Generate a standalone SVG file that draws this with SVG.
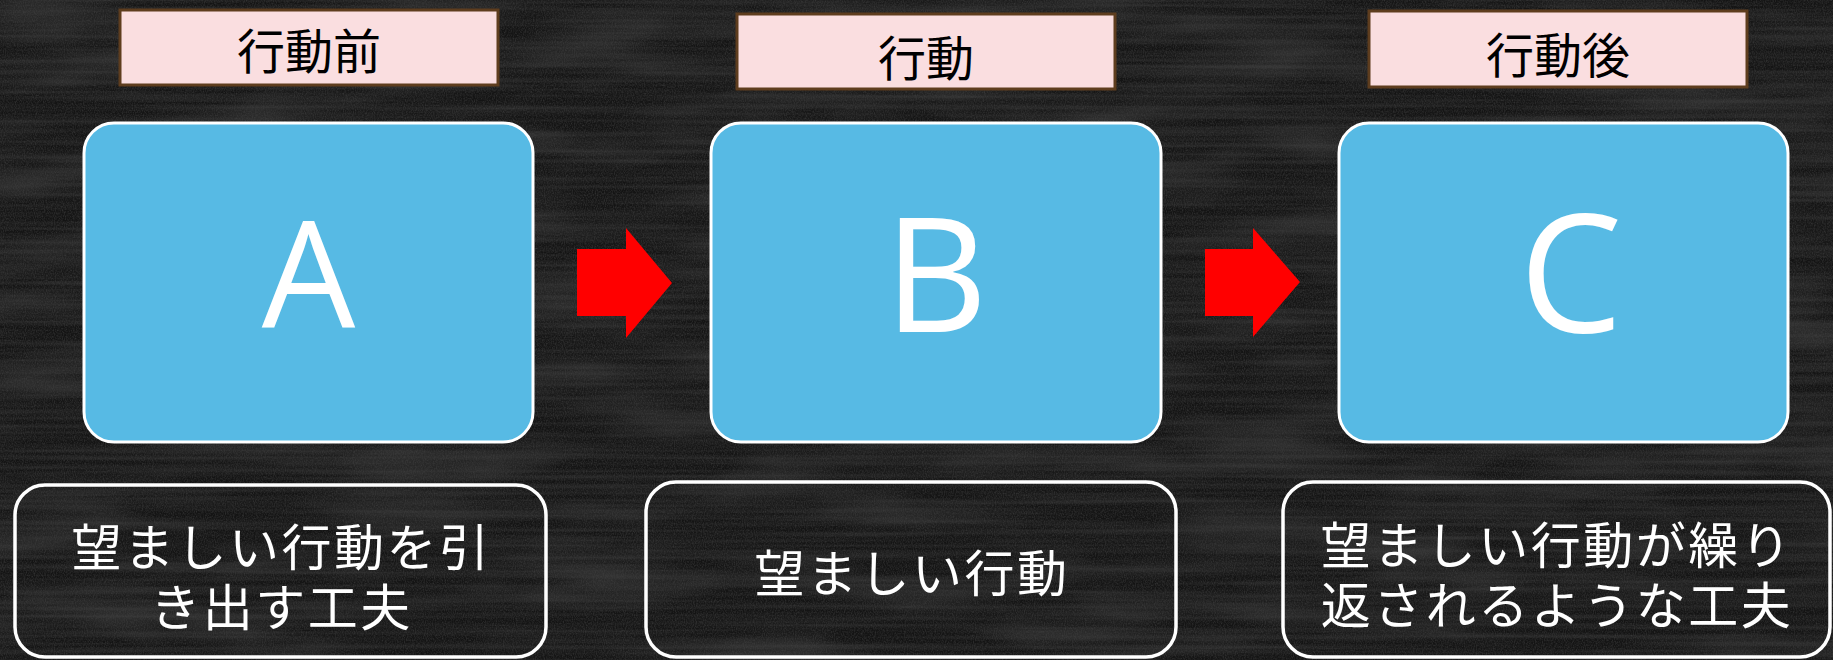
<svg xmlns="http://www.w3.org/2000/svg" width="1833" height="660" viewBox="0 0 1833 660">
  <defs>
    <filter id="chalk" x="0" y="0" width="1833" height="660" filterUnits="userSpaceOnUse">
      <feTurbulence type="fractalNoise" baseFrequency="0.003 0.2" numOctaves="3" seed="7" result="n1"/>
      <feColorMatrix in="n1" type="matrix" values="0 0 0 0 1  0 0 0 0 1  0 0 0 0 1  0.9 0 0 0 -0.35" result="a1"/>
      <feTurbulence type="fractalNoise" baseFrequency="0.9 0.6" numOctaves="2" seed="3" result="n2"/>
      <feColorMatrix in="n2" type="matrix" values="0 0 0 0 1  0 0 0 0 1  0 0 0 0 1  1.1 0 0 0 -0.4" result="a2"/>
      <feTurbulence type="fractalNoise" baseFrequency="0.006 0.025" numOctaves="3" seed="11" result="n3"/>
      <feColorMatrix in="n3" type="matrix" values="0 0 0 0 1  0 0 0 0 1  0 0 0 0 1  1.2 0 0 0 -0.5" result="a3"/>
      <feMerge><feMergeNode in="a3"/><feMergeNode in="a1"/><feMergeNode in="a2"/></feMerge>
    </filter>
    <style>
      .tag { fill: #FADEE0; stroke: #5E3D1E; stroke-width: 3; }
      .tagtxt { font-family: "Noto Sans CJK JP", sans-serif; font-size: 48px; fill: #000; text-anchor: middle; }
      .card { fill: #57BAE4; stroke: #FFFFFF; stroke-width: 3; }
      .letter { font-family: "Open Sans", "Noto Sans", sans-serif; fill: #FFFFFF; text-anchor: middle; }
      .note { fill: none; stroke: #FFFFFF; stroke-width: 3.5; }
      .notetxt { font-family: "Noto Sans CJK JP", sans-serif; font-size: 50px; letter-spacing: 2.5px; fill: #FFFFFF; text-anchor: middle; }
      .arrow { fill: #FF0000; }
    </style>
  </defs>

  <g id="background">
    <rect x="0" y="0" width="1833" height="660" fill="#141414"/>
    <rect x="0" y="0" width="1833" height="660" filter="url(#chalk)" opacity="0.2"/>
  </g>

  <g id="node-a">
    <rect class="tag" x="120" y="10" width="378" height="75"/>
    <text class="tagtxt" x="309" y="69">行動前</text>
    <rect class="card" x="84" y="123" width="449" height="319" rx="30" ry="30"/>
    <text class="letter" x="308.5" y="328" font-size="148">A</text>
    <rect class="note" x="15" y="485" width="531" height="172" rx="30" ry="30"/>
    <text class="notetxt"><tspan x="281.5" y="566">望ましい行動を引</tspan><tspan x="281.5" y="626">き出す工夫</tspan></text>
  </g>

  <g id="node-b">
    <rect class="tag" x="737" y="14" width="378" height="75"/>
    <text class="tagtxt" x="926" y="75.5">行動</text>
    <rect class="card" x="711" y="123" width="450" height="319" rx="30" ry="30"/>
    <text class="letter" x="936" y="332" font-size="160">B</text>
    <rect class="note" x="646" y="482" width="530" height="175" rx="30" ry="30"/>
    <text class="notetxt" x="912" y="592">望ましい行動</text>
  </g>

  <g id="node-c">
    <rect class="tag" x="1369" y="11" width="378" height="76"/>
    <text class="tagtxt" x="1558" y="72.5">行動後</text>
    <rect class="card" x="1339" y="123" width="449" height="319" rx="30" ry="30"/>
    <text class="letter" x="1571" y="332" font-size="164">C</text>
    <rect class="note" x="1283" y="482" width="547" height="175" rx="30" ry="30"/>
    <text class="notetxt"><tspan x="1557" y="563.5">望ましい行動が繰り</tspan><tspan x="1557" y="623.5">返されるような工夫</tspan></text>
  </g>

  <g id="connectors">
    <polygon class="arrow" points="577,249 626,249 626,228 672,283 626,338 626,316 577,316"/>
    <polygon class="arrow" points="1205,249 1253,249 1253,228 1300,282 1253,337 1253,316 1205,316"/>
  </g>
</svg>
